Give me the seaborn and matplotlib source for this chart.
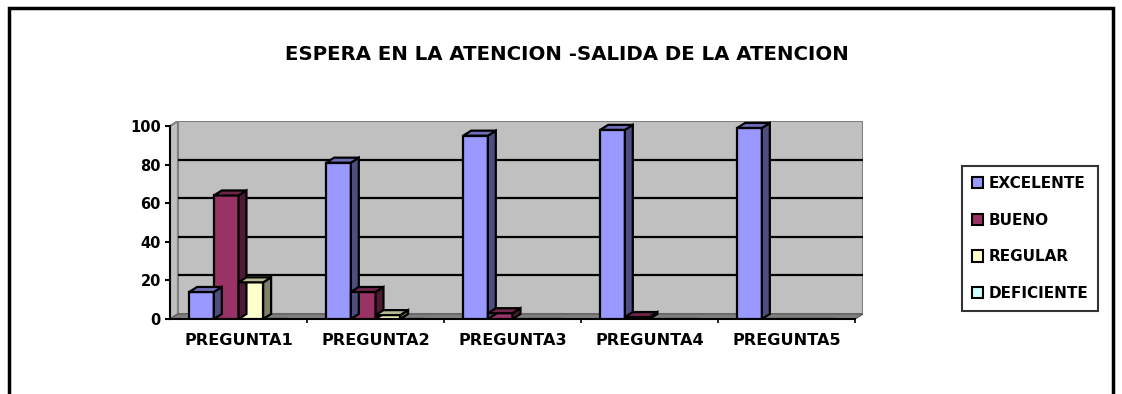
import matplotlib
matplotlib.use("Agg")
import matplotlib.pyplot as plt
import seaborn as sns
import pandas as pd
import numpy as np
from matplotlib.patches import Polygon, Rectangle
from matplotlib.colors import to_rgb

categories = ["PREGUNTA1", "PREGUNTA2", "PREGUNTA3", "PREGUNTA4", "PREGUNTA5"]
series = ["EXCELENTE", "BUENO", "REGULAR", "DEFICIENTE"]
excelente = [14, 81, 95, 98, 99]
bueno = [64, 14, 3, 1, 0]
regular = [19, 2, 0, 0, 0]
deficiente = [0, 0, 0, 0, 0]
yticks = [0, 20, 40, 60, 80, 100]
title = "ESPERA EN LA ATENCION -SALIDA DE LA ATENCION"
colors = ["#9999FF", "#993366", "#FFFFCC", "#CCFFFF"]

rows = []
for s, vals in zip(series, [excelente, bueno, regular, deficiente]):
    for c, v in zip(categories, vals):
        rows.append({"cat": c, "serie": s, "val": v})
df = pd.DataFrame(rows)

sns.set_theme(style="white")
plt.rcParams["font.family"] = ["DejaVu Sans"]
plt.rcParams["font.weight"] = "bold"
plt.rcParams["text.color"] = "black"
plt.rcParams["xtick.color"] = "black"
plt.rcParams["ytick.color"] = "black"
plt.rcParams["axes.labelcolor"] = "black"

dx, dy = 0.058, 2.6
ymax = 100

fig = plt.figure(figsize=(11.22, 3.94), dpi=100)
ax = fig.add_axes([170/1122, 1-319/394, (863-170)/1122, (319-121)/394])
ax.set_facecolor("none")

sns.barplot(data=df, x="cat", y="val", hue="serie", hue_order=series,
            palette=colors, width=0.72, dodge=True, ax=ax,
            edgecolor="black", linewidth=1.6, saturation=1, legend=True, zorder=3)

# back wall, left wall, floor
ax.add_patch(Rectangle((-0.5 + dx, dy), 5, ymax, facecolor="#C0C0C0",
                       edgecolor="#808080", lw=1.5, zorder=0))
ax.add_patch(Polygon([(-0.5, 0), (-0.5 + dx, dy), (-0.5 + dx, ymax + dy), (-0.5, ymax)],
                     closed=True, facecolor="#C0C0C0", edgecolor="#808080", lw=1.5, zorder=0.5))
ax.add_patch(Polygon([(-0.5, 0), (4.5, 0), (4.5 + dx, dy), (-0.5 + dx, dy)],
                     closed=True, facecolor="#808080", edgecolor="#606060", lw=1, zorder=2))
for t in yticks[1:-1]:
    ax.hlines(t + dy, -0.5 + dx, 4.5 + dx, color="black", lw=1.6, zorder=1)

for p in list(ax.patches):
    if not isinstance(p, Rectangle) or p.get_height() <= 0 or p.get_width() > 1 or p.get_zorder() != 3:
        continue
    x, w, h = p.get_x(), p.get_width(), p.get_height()
    base = np.array(to_rgb(p.get_facecolor()))
    side = Polygon([(x + w, 0), (x + w + dx, dy), (x + w + dx, h + dy), (x + w, h)],
                   closed=True, facecolor=base * 0.5, edgecolor="black", lw=1.6, zorder=3)
    top = Polygon([(x, h), (x + dx, h + dy), (x + w + dx, h + dy), (x + w, h)],
                  closed=True, facecolor=base * 0.72, edgecolor="black", lw=1.6, zorder=3)
    ax.add_patch(side)
    ax.add_patch(top)

ax.set_xlim(-0.5, 4.5 + dx)
ax.set_ylim(0, ymax + dy)
ax.set_yticks(yticks)
ax.set_yticklabels([str(t) for t in yticks], fontsize=10.5, fontweight="bold")
ax.set_xticks(range(len(categories)))
ax.set_xticklabels(categories, fontsize=11.6, fontweight="bold")
ax.set_xticks(np.arange(0.5, 5, 1), minor=True)
ax.tick_params(axis="x", which="major", length=0, pad=10)
ax.tick_params(axis="x", which="minor", length=3, color="black", width=1.2, bottom=True)
ax.tick_params(axis="y", length=3.5, color="black", width=1.5, left=True, pad=3)
ax.set_xlabel("")
ax.set_ylabel("")
for sp in ["top", "right"]:
    ax.spines[sp].set_visible(False)
ax.spines["left"].set_color("black")
ax.spines["left"].set_linewidth(1.5)
ax.spines["left"].set_bounds(0, ymax)
ax.spines["bottom"].set_color("black")
ax.spines["bottom"].set_linewidth(1.5)
ax.spines["bottom"].set_bounds(-0.5, 4.5)
ax.grid(False)

leg = ax.legend(loc="upper left", bbox_to_anchor=(962/1122, 1-166/394),
                bbox_transform=fig.transFigure, frameon=True, fancybox=False,
                edgecolor="black", prop={"weight": "bold", "size": 11},
                handlelength=0.75, handleheight=0.75, handletextpad=0.35,
                labelspacing=1.42, borderpad=0.65, borderaxespad=0)
leg.get_frame().set_linewidth(1.5)
for h in leg.legend_handles:
    h.set_edgecolor("black")
    h.set_linewidth(1.5)

fig.text(567/1122, 1-55/394, title, ha="center", va="center",
         fontsize=14.2, fontweight="bold")

# outer frame
fig.add_artist(Rectangle((9/1122, -0.1), (1113-9)/1122, 1.1 - 8/394,
                         transform=fig.transFigure, fill=False,
                         edgecolor="black", lw=2.5))

fig.savefig("out.png", dpi=100)
